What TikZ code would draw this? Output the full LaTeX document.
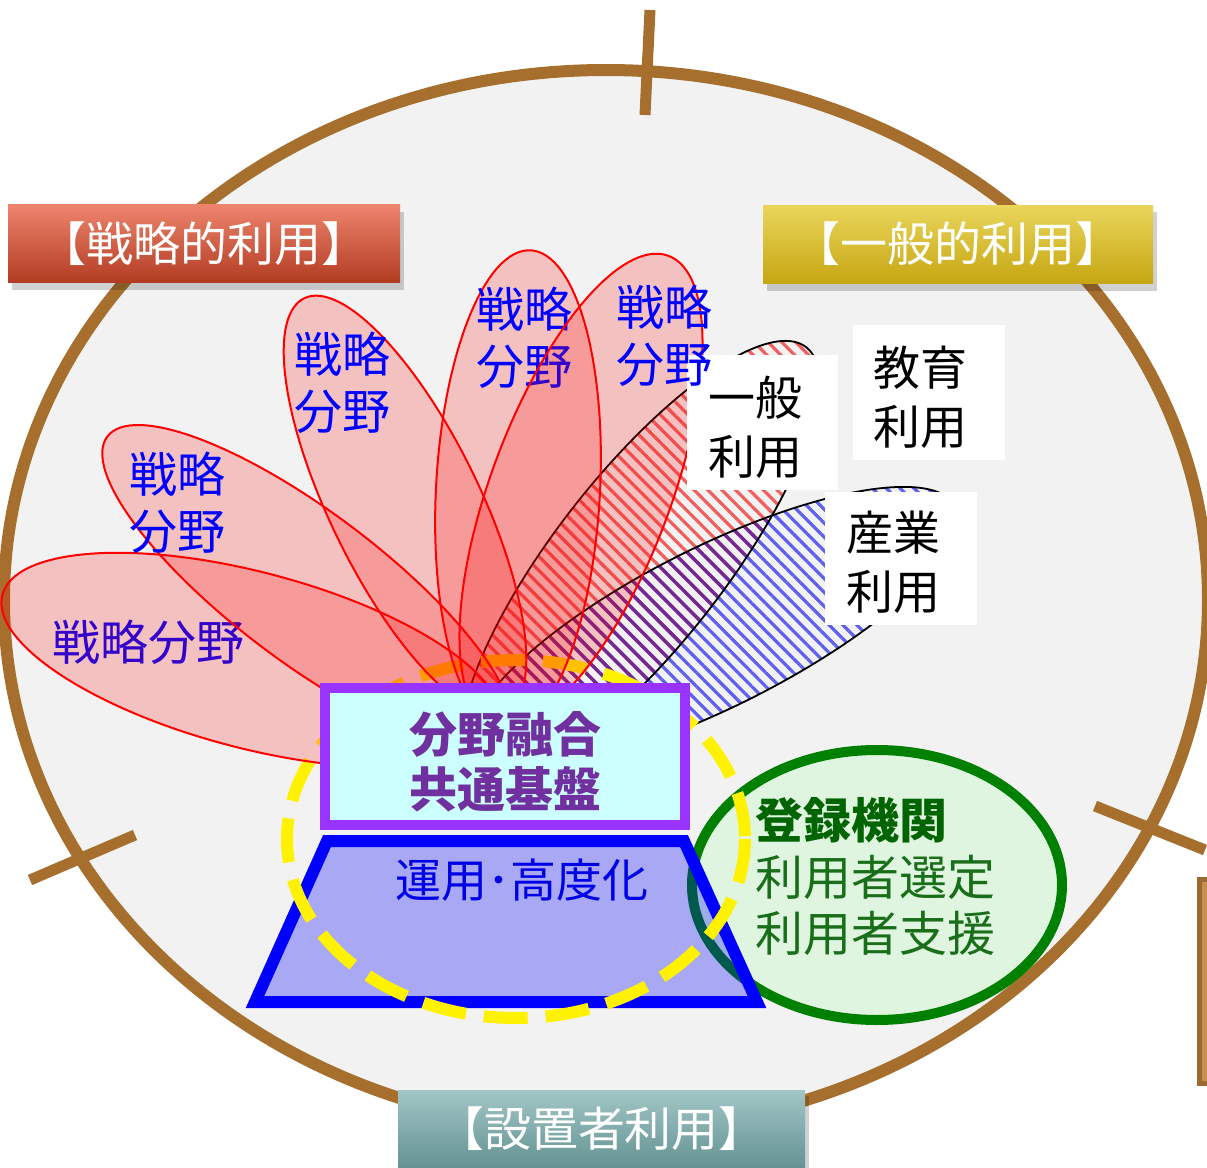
\documentclass[tikz,border=0pt]{standalone}
\usepackage{fontspec}
\newfontfamily\jp{Noto Sans CJK JP}
\usetikzlibrary{patterns.meta}
\definecolor{brownline}{RGB}{166,111,46}
\definecolor{bggray}{RGB}{242,242,242}
\definecolor{boxpurple}{RGB}{153,51,255}
\definecolor{boxcyan}{RGB}{204,255,255}
\definecolor{txtpurple}{RGB}{112,48,160}
\definecolor{greenline}{RGB}{0,128,0}
\definecolor{greenfill}{RGB}{224,245,224}
\definecolor{greentxt}{RGB}{25,110,25}
\definecolor{greentxtb}{RGB}{0,100,0}
\definecolor{redtop}{RGB}{238,132,110}
\definecolor{redbot}{RGB}{178,60,34}
\definecolor{yeltop}{RGB}{234,214,92}
\definecolor{yelbot}{RGB}{198,166,18}
\definecolor{teatop}{RGB}{162,198,198}
\definecolor{teabot}{RGB}{100,146,146}
\definecolor{rbrown}{RGB}{155,105,50}
\definecolor{rbrownin}{RGB}{204,142,76}
\definecolor{optxt}{RGB}{0,0,230}
\definecolor{stripered}{RGB}{240,95,95}
\definecolor{stripeblue}{RGB}{95,95,240}
\definecolor{stripepurple}{RGB}{112,40,150}
\begin{document}
\begin{tikzpicture}[x=0.5pt,y=-0.5pt,
  every node/.style={inner sep=0pt, outer sep=0pt},
  brownstroke/.style={draw=brownline, line width=6pt},
  headbox/.style={rectangle, minimum height=39pt, text=white, font=\jp\fontsize{23.5}{28}\selectfont},
  headshadow/.style={fill=black, opacity=0.18},
  petalshape/.style={draw=red, line width=1pt, fill=red, fill opacity=0.2},
  petaltext/.style={text=blue, font=\jp\fontsize{24}{28.5}\selectfont, align=center},
  hatch/.style={pattern={Lines[angle=-45,distance=4.9pt,line width=1.6pt]}, pattern color=#1},
  hatchline/.style={draw=black, line width=0.9pt},
  labelbox/.style={rectangle, fill=white},
  labeltext/.style={text=black, font=\jp\fontsize{23.5}{29.5}\selectfont, align=center},
]
\useasboundingbox (0,0) rectangle (1207,1168);
\fill[white] (0,0) rectangle (1207,1168);

% big ellipse
\draw[brownstroke, fill=bggray] (606,600) ellipse [x radius=602, y radius=530];
% ticks
\draw[draw=brownline, line width=5.5pt] (650,10) -- (645,115);
\draw[draw=brownline, line width=5.5pt] (30,880) -- (135,835);
\draw[draw=brownline, line width=5.5pt] (1095,806) -- (1205,850);
% right edge bar
\draw[draw=rbrown, fill=rbrownin, line width=2.5pt] (1199,879) rectangle (1220,1083);

% heading boxes
\fill[headshadow] (12,212) rectangle (404,290);
\node[headbox, top color=redtop, bottom color=redbot, minimum width=196pt] (hstrat) at (204,243.5) {【戦略的利用】};
\fill[headshadow] (767,212) rectangle (1157,291);
\node[headbox, top color=yeltop, bottom color=yelbot, minimum width=195pt] (hgen) at (958,244) {【一般的利用】};
\fill[headshadow] (402,1096) rectangle (809,1175);

% hatched ellipses
\def\indpath{plot[smooth cycle, domain=0:357, samples=120, variable=\t]
  ({715+240.5*cos(\t)+35.8*sin(\t)}, {627-120.5*cos(\t)+71.5*sin(\t)})}
\def\genpath{plot[smooth cycle, domain=0:357, samples=120, variable=\t]
  ({640+166.2*cos(\t)+67.0*sin(\t)}, {560-212.8*cos(\t)+52.3*sin(\t)})}
\path[hatch=stripeblue] \indpath;
\path[hatch=stripered] \genpath;
\begin{scope}
  \clip \indpath;
  \path[hatch=stripepurple] \genpath;
\end{scope}
\path[hatchline] \indpath;
\path[hatchline] \genpath;

% registration ellipse
\draw[draw=greenline, line width=5pt, fill=greenfill] (877,885) ellipse [x radius=185, y radius=135];

% trapezoid
\draw[draw=blue, line width=6pt, fill=blue, fill opacity=0.3, line join=miter]
  (327,841) -- (684,841) -- (757,1002) -- (255,1002) -- cycle;

% yellow dashed ellipse
\draw[draw=yellow, line width=6pt, dash pattern=on 22pt off 9pt] (516,839) ellipse [x radius=229, y radius=179];

% petals
\node[petaltext] (t1) at (149,642) {戦略分野};
\draw[petalshape, rotate around={-14.7:(251,660)}] (251,660) ellipse [x radius=257, y radius=88];
\draw[petalshape, rotate around={-37:(307,587)}] (307,587) ellipse [x radius=250, y radius=75];
\node[petaltext] (t2) at (177,503) {戦略\\分野};
\draw[petalshape, rotate around={-64:(405,505)}] (405,505) ellipse [x radius=230, y radius=75];
\node[petaltext] (t3) at (342,383) {戦略\\分野};
\draw[petalshape, rotate around={87:(518,490)}] (518,490) ellipse [x radius=240, y radius=82];
\node[petaltext] (t4) at (524,338) {戦略\\分野};
\draw[petalshape, rotate around={69.5:(581,490)}] (581,490) ellipse [x radius=250, y radius=90];

% fusion box
\node[draw=boxpurple, line width=5pt, fill=boxcyan, minimum width=180pt, minimum height=68.5pt] (fusebox) at (505,756.5) {};
\node[text=txtpurple, font=\jp\bfseries\fontsize{24}{27.5}\selectfont, align=center] (fusetext) at (505,762) {分野融合\\共通基盤};

% operation text
\node[text=optxt, font=\jp\fontsize{23}{26}\selectfont] (optext) at (522,880) {運用･高度化};

% registration text
\node[text=greentxt, font=\jp\fontsize{24}{28.25}\selectfont, align=left, anchor=west] (regtext) at (755,877)
  {{\bfseries\color{greentxtb}登録機関}\\利用者選定\\利用者支援};

% white label boxes
\node[labelbox, minimum width=75.5pt, minimum height=67.5pt] (genbox) at (762.5,422.5) {};
\node[labeltext] (gentext) at (755,427.5) {一般\\利用};
\node[labelbox, minimum width=76pt, minimum height=67.5pt] (edubox) at (929,392.5) {};
\node[labeltext] (edutext) at (920,397.5) {教育\\利用};
\node[labelbox, minimum width=76pt, minimum height=66.5pt] (indbox) at (901,558.5) {};
\node[labeltext] (indtext) at (893,562.5) {産業\\利用};

\node[petaltext] (t5) at (664,336) {戦略\\分野};

% bottom heading
\node[headbox, top color=teatop, bottom color=teabot, minimum width=203.5pt] (hset) at (601.5,1129) {【設置者利用】};
\end{tikzpicture}
\end{document}
